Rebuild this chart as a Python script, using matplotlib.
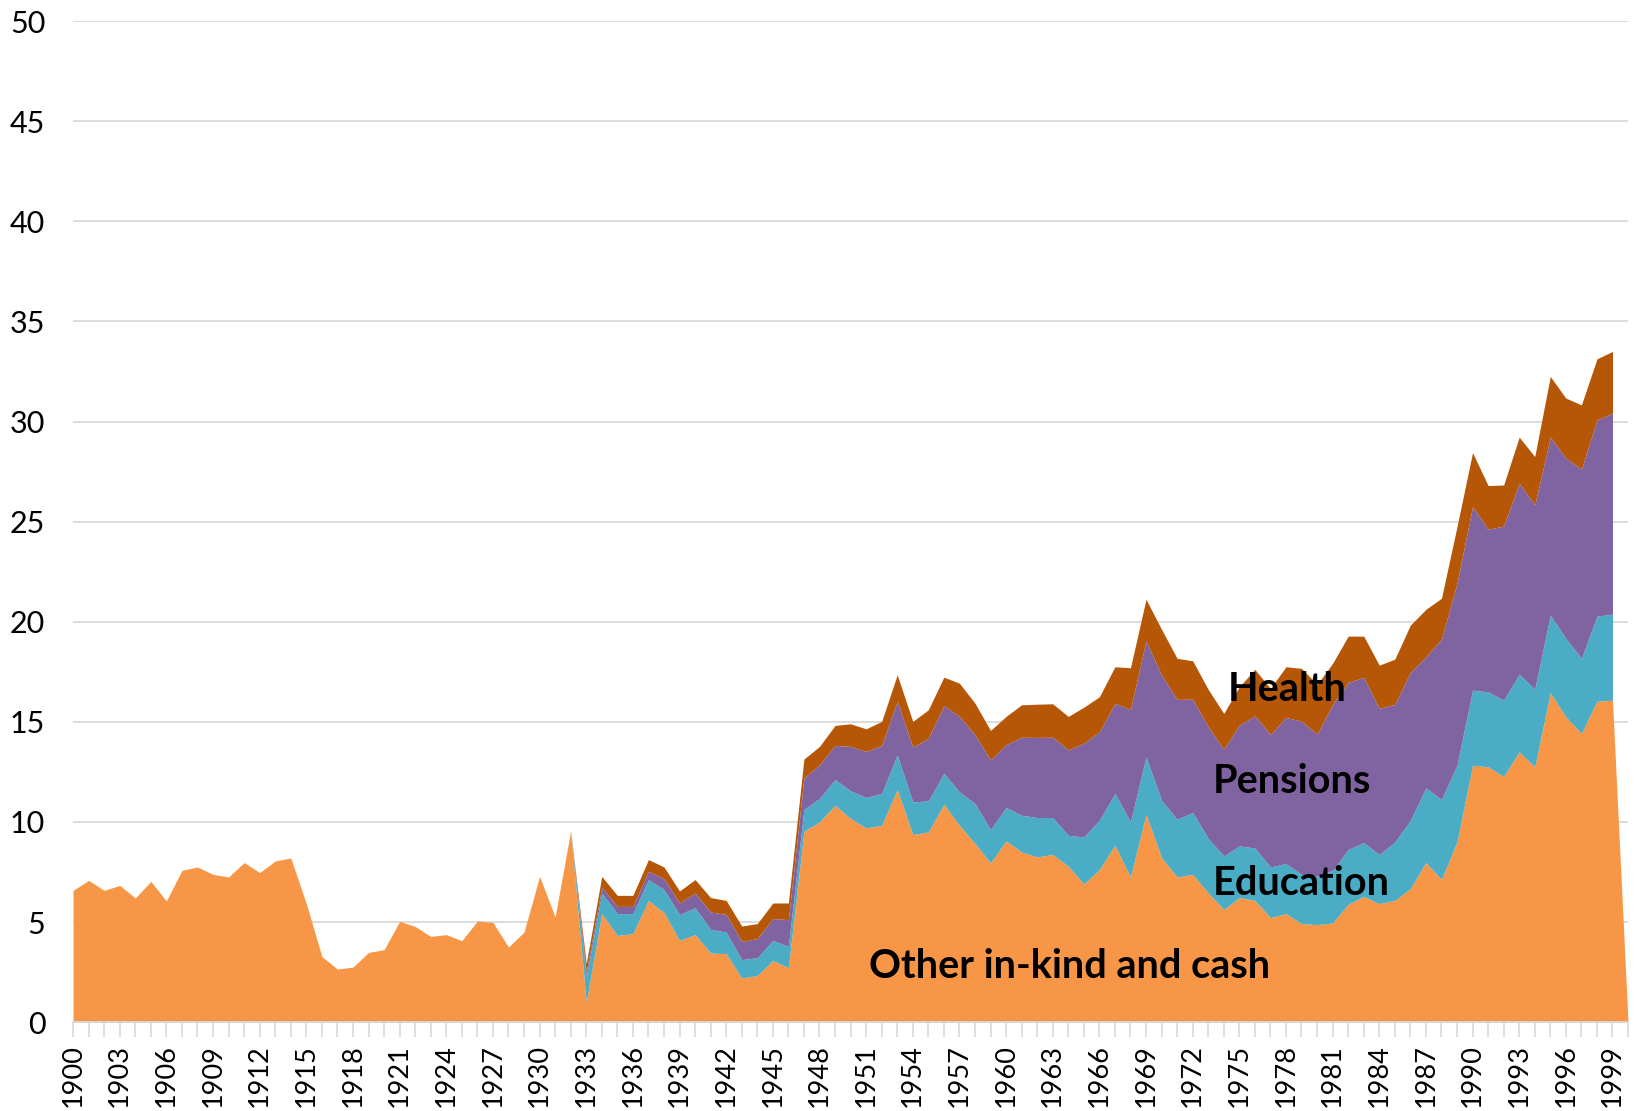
import numpy as np
import matplotlib.pyplot as plt

# share of GDP (%)
years = np.arange(1900, 2001)
other = [6.58, 7.08, 6.58, 6.83, 6.2, 7.03, 6.05, 7.58, 7.75, 7.38,
         7.25, 7.97, 7.47, 8.05, 8.2, 5.92, 3.28, 2.65, 2.75, 3.48,
         3.62, 5.03, 4.78, 4.28, 4.37, 4.07, 5.05, 4.98, 3.75, 4.5,
         7.28, 5.25, 9.55, 1.0, 5.42, 4.33, 4.42, 6.08, 5.47, 4.08,
         4.38, 3.45, 3.42, 2.2, 2.33, 3.08, 2.72, 9.53, 10.0, 10.83,
         10.17, 9.7, 9.83, 11.62, 9.37, 9.5, 10.88, 9.83, 8.92, 7.95,
         9.05, 8.5, 8.25, 8.38, 7.78, 6.9, 7.62, 8.83, 7.25, 10.38,
         8.22, 7.25, 7.38, 6.45, 5.63, 6.22, 6.08, 5.22, 5.42, 4.92,
         4.87, 4.95, 5.88, 6.28, 5.92, 6.08, 6.67, 7.97, 7.13, 9.0,
         12.83, 12.75, 12.28, 13.5, 12.75, 16.45, 15.25, 14.42, 16.03, 16.08,
         0.0]

# the other three start in 1932 and end in 1999
years2 = np.arange(1932, 2000)
education = [0.0, 1.25, 1.03, 1.09, 1.0, 1.04, 1.15, 1.29,
             1.34, 1.18, 1.08, 0.92, 0.89, 1.0, 1.06, 1.09, 1.17, 1.29,
             1.38, 1.52, 1.59, 1.73, 1.63, 1.55, 1.55, 1.67, 2.0, 1.67,
             1.67, 1.83, 1.97, 1.84, 1.55, 2.35, 2.46, 2.59, 2.75, 2.87,
             2.86, 2.88, 3.09, 2.72, 2.67, 2.58, 2.62, 2.53, 2.5, 2.46,
             2.41, 2.63, 2.74, 2.69, 2.45, 2.92, 3.41, 3.73, 3.99, 3.83,
             3.75, 3.75, 3.8, 3.88, 3.88, 3.88, 3.92, 3.75, 4.25, 4.3]
pensions = [0.0, 0.25, 0.3, 0.36, 0.36, 0.41, 0.55, 0.58,
            0.73, 0.87, 0.88, 0.91, 0.95, 1.09, 1.34, 1.58, 1.68, 1.7,
            2.22, 2.3, 2.4, 2.67, 2.73, 3.13, 3.37, 3.77, 3.43, 3.48,
            3.13, 3.9, 4.0, 4.01, 4.27, 4.68, 4.42, 4.5, 5.62, 5.8,
            6.25, 5.99, 5.66, 5.58, 5.32, 6.03, 6.6, 6.62, 7.3, 7.65,
            7.1, 8.29, 8.35, 8.25, 7.3, 6.87, 7.39, 6.55, 8.01, 9.09,
            9.17, 8.12, 8.7, 9.54, 9.2, 8.89, 9.0, 9.45, 9.8, 10.04]
health = [0.0, 0.42, 0.53, 0.55, 0.55, 0.59, 0.58, 0.6,
          0.67, 0.72, 0.7, 0.77, 0.75, 0.78, 0.83, 0.94, 0.92, 1.0,
          1.13, 1.13, 1.2, 1.33, 1.29, 1.42, 1.43, 1.66, 1.58, 1.47,
          1.42, 1.62, 1.66, 1.67, 1.67, 1.8, 1.75, 1.83, 2.08, 2.07,
          2.29, 2.05, 1.92, 1.87, 1.8, 1.92, 2.32, 2.3, 2.53, 2.64,
          2.49, 2.05, 2.31, 2.06, 2.16, 2.26, 2.36, 2.37, 2.04, 2.83,
          2.7, 2.18, 2.05, 2.3, 2.42, 3.03, 3.0, 3.21, 3.05, 3.08]

colors = ["#F79646", "#4BACC6", "#8064A2", "#B65708"]

plt.rcParams['font.family'] = ['Lato', 'DejaVu Sans']
fig = plt.figure(figsize=(16.42, 11.11), dpi=100)
ax = fig.add_axes([0.0445, 0.080, 0.947, 0.901])

other = np.array(other)
ax.fill_between(years, 0, other, color=colors[0], lw=0)

base = other[years2 - 1900]
for vals, c in zip([education, pensions, health], colors[1:]):
    top = base + np.array(vals)
    ax.fill_between(years2, base, top, color=c, lw=0)
    base = top

ax.set_xlim(1900, 2000)
ax.set_ylim(0, 50)
ax.set_yticks(np.arange(0, 51, 5))
ax.set_xticks(np.arange(1900, 2000, 3))
ax.set_xticks(np.arange(1900, 2001, 1), minor=True)
ax.tick_params(axis='x', which='both', length=11, color="#D9D9D9", width=1.2)
ax.tick_params(axis='x', which='major', labelrotation=90, labelsize=19.5, pad=5)
ax.tick_params(axis='y', length=0, labelsize=22, pad=20)
ax.grid(axis='y', color="#D9D9D9", lw=1.3)
ax.set_axisbelow(True)
for s in ['top', 'right', 'left']:
    ax.spines[s].set_visible(False)
ax.spines['bottom'].set_color("#D9D9D9")
ax.spines['bottom'].set_linewidth(1.3)

ax.text(1978.1, 16.6, "Health", fontsize=28.5, fontweight='bold', ha='center', va='center')
ax.text(1978.4, 12.0, "Pensions", fontsize=28.5, fontweight='bold', ha='center', va='center')
ax.text(1979.0, 6.9, "Education", fontsize=28.5, fontweight='bold', ha='center', va='center')
ax.text(1964.1, 2.8, "Other in-kind and cash", fontsize=28.5, fontweight='bold', ha='center', va='center')

fig.savefig("out.png", dpi=100)
